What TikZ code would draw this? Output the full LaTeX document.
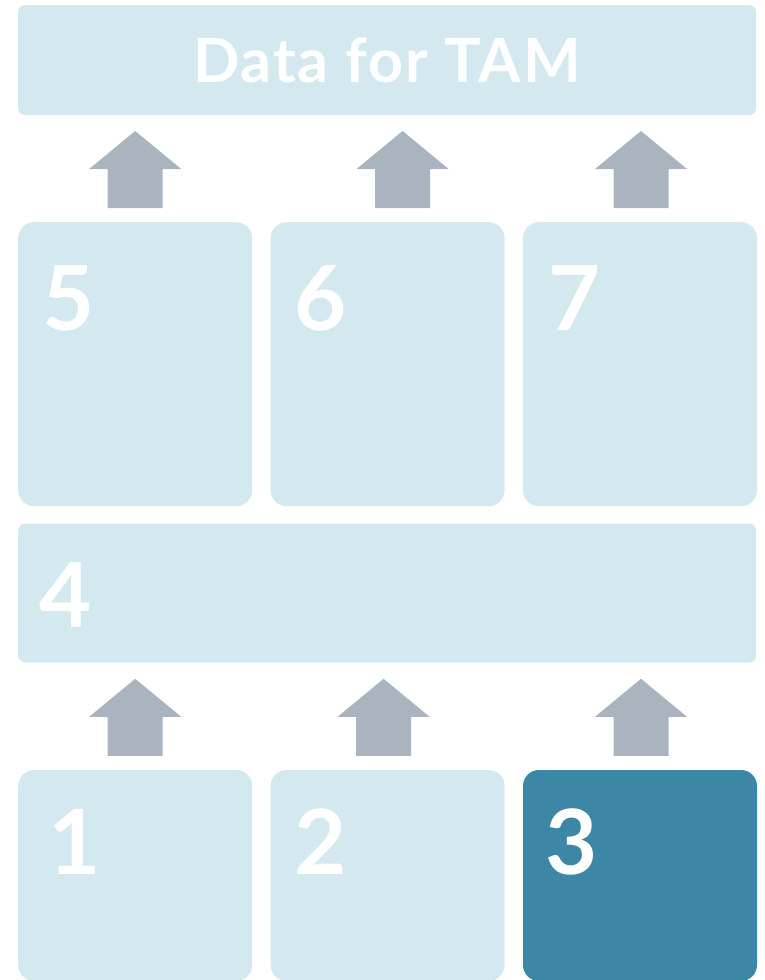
\documentclass[tikz,border=0pt]{standalone}
\usepackage{fontspec}
\setmainfont{Lato}
\usepackage{tikz}
\usetikzlibrary{positioning,calc}

\definecolor{boxblue}{HTML}{D4E8EF}
\definecolor{boxdark}{HTML}{3B87A5}
\definecolor{arrowgray}{HTML}{AAB4BF}

% block arrow pointing up, #1 = foot of the shaft
\newcommand{\upblock}[1]{%
  \fill[arrowgray,shift={#1}] (-27.5,0) -- (27.5,0) -- (27.5,39) -- (46,39) -- (0,77) -- (-46,39) -- (-27.5,39) -- cycle;}

\begin{document}
\begin{tikzpicture}[x=1pt, y=1pt, node distance=18pt, every node/.style={font=\bfseries, text=white},
  panel/.style={fill=boxblue, rounded corners=16pt, minimum width=234pt, inner sep=0pt},
  widebox/.style={fill=boxblue, rounded corners=7pt, minimum width=738pt, inner sep=0pt},
  num/.style={font=\fontsize{90}{90}\selectfont\bfseries, anchor=base west, inner sep=0pt}]
\useasboundingbox (0,0) rectangle (765,-980);
\node[widebox, minimum height=110pt, font=\fontsize{61}{61}\selectfont\bfseries\addfontfeatures{LetterSpace=3}] (tam) at (387,-60) {Data for TAM};
\node[panel, minimum height=284pt, anchor=north west] (b5) at (18,-222) {};
\node[panel, minimum height=284pt, right=of b5] (b6) {};
\node[panel, minimum height=284pt, right=of b6] (b7) {};
\node[widebox, minimum height=139pt, below=17pt of b5.south west, anchor=north west] (b4) {};
\node[panel, minimum height=211pt, below=107pt of b4.south west, anchor=north west] (b1) {};
\node[panel, minimum height=211pt, right=of b1] (b2) {};
\node[panel, minimum height=211pt, right=of b2, fill=boxdark] (b3) {};
% numbers
\node[num] (n5) at ($(b5.north west)+(24,-108)$) {5};
\node[num] (n6) at ($(b6.north west)+(24,-108)$) {6};
\node[num] (n7) at ($(b7.north west)+(25,-108)$) {7};
\node[num] (n4) at ($(b4.north west)+(21,-104)$) {4};
\node[num] (n1) at ($(b1.north west)+(30,-105)$) {1};
\node[num] (n2) at ($(b2.north west)+(24,-105)$) {2};
\node[num] (n3) at ($(b3.north west)+(22,-105)$) {3};
% arrows
\upblock{($(b5.north)+(0,14)$)}
\upblock{($(b6.north)+(15,14)$)}
\upblock{($(b7.north)+(1,14)$)}
\upblock{($(b1.north)+(0,14)$)}
\upblock{($(b2.north)+(-4,14)$)}
\upblock{($(b3.north)+(1,14)$)}
\end{tikzpicture}
\end{document}
